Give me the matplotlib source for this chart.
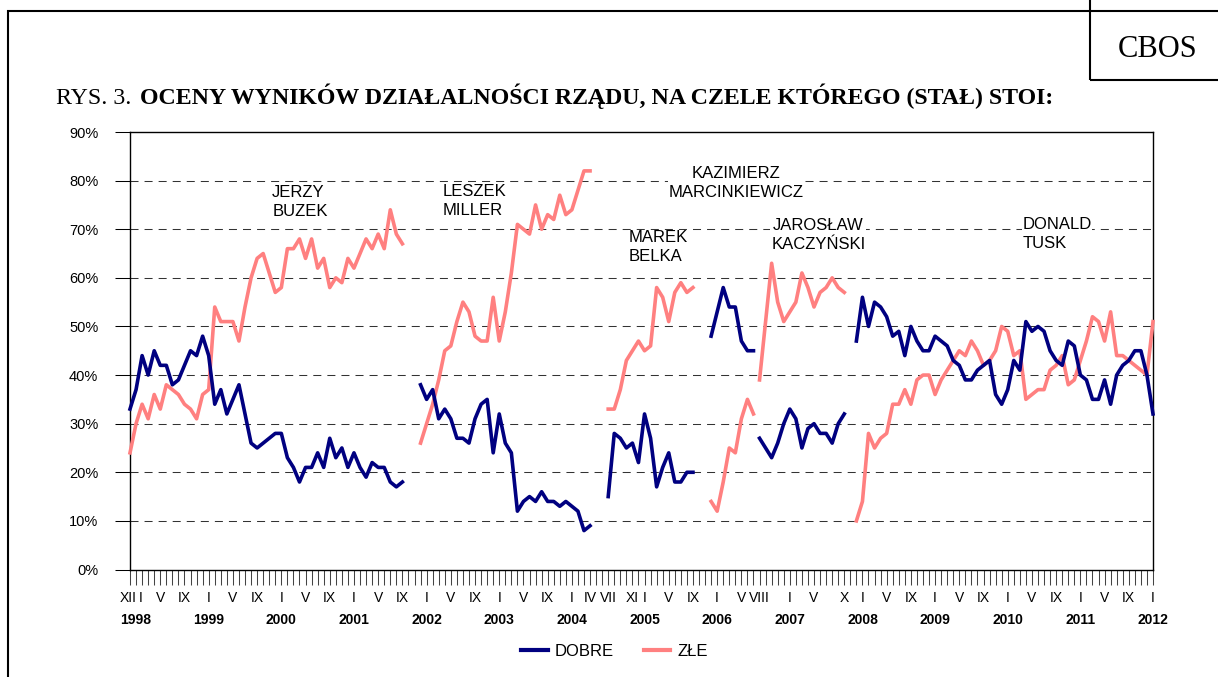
import numpy as np
import matplotlib.pyplot as plt
from matplotlib.lines import Line2D
from matplotlib.patches import Rectangle
from matplotlib.transforms import blended_transform_factory

plt.rcParams['font.family'] = ['Liberation Sans', 'DejaVu Sans']

NAVY = '#000080'
PINK = '#ff8080'

# first survey month of each government and monthly ratings (%)
first_survey = ["1997-12", "2001-12", "2004-07", "2005-12", "2006-08", "2007-12"]

dobre = [
    [33, 37, 44, 40, 45, 42, 42, 38, 39, 42, 45, 44, 48, 44, 34, 37, 32, 35, 38, 32,
     26, 25, 26, 27, 28, 28, 23, 21, 18, 21, 21, 24, 21, 27, 23, 25, 21, 24, 21, 19,
     22, 21, 21, 18, 17, 18],
    [38, 35, 37, 31, 33, 31, 27, 27, 26, 31, 34, 35, 24, 32, 26, 24, 12, 14, 15, 14,
     16, 14, 14, 13, 14, 13, 12, 8, 9],
    [15, 28, 27, 25, 26, 22, 32, 27, 17, 21, 24, 18, 18, 20, 20],
    [48, 53, 58, 54, 54, 47, 45, 45],
    [27, 25, 23, 26, 30, 33, 31, 25, 29, 30, 28, 28, 26, 30, 32],
    [47, 56, 50, 55, 54, 52, 48, 49, 44, 50, 47, 45, 45, 48, 47, 46, 43, 42, 39, 39,
     41, 42, 43, 36, 34, 37, 43, 41, 51, 49, 50, 49, 45, 43, 42, 47, 46, 40, 39, 35,
     35, 39, 34, 40, 42, 43, 45, 45, 40, 32],
]

zle = [
    [24, 30, 34, 31, 36, 33, 38, 37, 36, 34, 33, 31, 36, 37, 54, 51, 51, 51, 47, 54,
     60, 64, 65, 61, 57, 58, 66, 66, 68, 64, 68, 62, 64, 58, 60, 59, 64, 62, 65, 68,
     66, 69, 66, 74, 69, 67],
    [26, 30, 34, 39, 45, 46, 51, 55, 53, 48, 47, 47, 56, 47, 53, 61, 71, 70, 69, 75,
     70, 73, 72, 77, 73, 74, 78, 82, 82],
    [33, 33, 37, 43, 45, 47, 45, 46, 58, 56, 51, 57, 59, 57, 58],
    [14, 12, 18, 25, 24, 31, 35, 32],
    [39, 51, 63, 55, 51, 53, 55, 61, 58, 54, 57, 58, 60, 58, 57],
    [10, 14, 28, 25, 27, 28, 34, 34, 37, 34, 39, 40, 40, 36, 39, 41, 43, 45, 44, 47,
     45, 42, 43, 45, 50, 49, 44, 45, 35, 36, 37, 37, 41, 42, 44, 38, 39, 43, 47, 52,
     51, 47, 53, 44, 44, 43, 42, 41, 40, 51],
]

pm_names = ["JERZY\nBUZEK", "LESZEK\nMILLER", "MAREK\nBELKA",
            "KAZIMIERZ\nMARCINKIEWICZ", "JAROSŁAW\nKACZYŃSKI", "DONALD\nTUSK"]

# months that carry a label on the category axis
label_months = ["1997-12", "1998-01", "1998-05", "1998-09",
                "1999-01", "1999-05", "1999-09", "2000-01", "2000-05", "2000-09",
                "2001-01", "2001-05", "2001-09", "2002-01", "2002-05", "2002-09",
                "2003-01", "2003-05", "2003-09", "2004-01", "2004-04", "2004-07",
                "2004-11", "2005-01", "2005-05", "2005-09", "2006-01", "2006-05",
                "2006-08", "2007-01", "2007-05", "2007-10", "2008-01", "2008-05",
                "2008-09", "2009-01", "2009-05", "2009-09", "2010-01", "2010-05",
                "2010-09", "2011-01", "2011-05", "2011-09", "2012-01"]
years = list(range(1998, 2013))

ROMAN = ["I", "II", "III", "IV", "V", "VI", "VII", "VIII", "IX", "X", "XI", "XII"]


def month_index(s):
    y, mo = map(int, s.split("-"))
    return (y - 1997) * 12 + mo - 12


fig = plt.figure(figsize=(12.18, 6.77), dpi=100)
ax = fig.add_axes([130 / 1218, 1 - 569.5 / 677, 1023 / 1218, 437.5 / 677])

for start, d, z in zip(first_survey, dobre, zle):
    m0 = month_index(start)
    x = np.arange(m0, m0 + len(d))
    ax.plot(x, d, color=NAVY, lw=2.6, zorder=4, clip_on=False)
    ax.plot(x, z, color=PINK, lw=2.6, zorder=3, clip_on=False)

ax.set_xlim(0, month_index("2012-01"))
ax.set_ylim(0, 90)

for v in range(10, 90, 10):
    ax.axhline(v, color='#333333', lw=0.75, ls=(0, (7.7, 5.8)), zorder=1)

ax.set_yticks(range(0, 100, 10))
ax.set_yticklabels([f"{v}%" for v in range(0, 100, 10)])
ax.tick_params(axis='y', direction='out', length=10.8, width=0.75, pad=12,
               labelsize=10.5)
ax.set_xticks(np.arange(0, month_index("2012-01") + 1))
ax.set_xticklabels([])
ax.tick_params(axis='x', direction='out', length=10.8, width=0.75, color='#444444')
for sp in ax.spines.values():
    sp.set_linewidth(1.0)

trans = blended_transform_factory(ax.transData, ax.transAxes)
for i, s in enumerate(label_months):
    # the first two labels sit crowded together, as in the original ("XIII")
    nudge = {0: -0.3, 1: 0.8}.get(i, 0)
    ax.text(month_index(s) + nudge, -0.0743, ROMAN[int(s[5:]) - 1], transform=trans,
            ha='center', va='baseline', fontsize=10)
for y in years:
    ax.text(month_index(f"{y}-01"), -0.1246, str(y), transform=trans,
            ha='center', va='baseline', fontsize=10, fontweight='bold')

# prime minister names
name_pos = [(23.5, 79.1, 'left'), (51.7, 79.3, 'left'), (82.4, 69.8, 'left'),
            (100.1, 83.0, 'center'), (113.7, 72.3, 'center'), (147.4, 72.5, 'left')]
for name, (nx, ny, ha) in zip(pm_names, name_pos):
    ax.text(nx, ny, name, ha=ha, va='top', fontsize=12, multialignment=ha,
            linespacing=1.3, zorder=2,
            bbox=dict(facecolor='white', edgecolor='none', pad=0.5))

# title, frame and CBOS box
fig.text(56 / 1218, 1 - 104 / 677, "RYS. 3. ", family='Liberation Serif',
         fontsize=17.2, va='baseline')
fig.text(140 / 1218, 1 - 104 / 677,
         "OCENY WYNIKÓW DZIAŁALNOŚCI RZĄDU, NA CZELE KTÓREGO (STAŁ) STOI:",
         family='Liberation Serif', fontweight='bold', fontsize=17.2, va='baseline')
fig.add_artist(Rectangle((8 / 1218, -0.5), 2, 1.5 - 11 / 677, transform=fig.transFigure,
                         fill=False, lw=1.5, edgecolor='black'))
fig.add_artist(Rectangle((1090 / 1218, 1 - 80 / 677), 1, 1, transform=fig.transFigure,
                         fill=False, lw=1.5, edgecolor='black'))
fig.text(1158 / 1218, 1 - 56.7 / 677, "CBOS", family='Liberation Serif',
         fontsize=22, ha='center', va='baseline')

handles = [Line2D([], [], color=NAVY, lw=3), Line2D([], [], color=PINK, lw=3)]
fig.legend(handles, ["DOBRE", "ZŁE"], loc='center',
           bbox_to_anchor=(614.5 / 1218, 1 - 651 / 677), ncol=2, frameon=False,
           fontsize=12, handlelength=1.6, handletextpad=0.4, columnspacing=1.8)

fig.savefig("out.png", dpi=100)
